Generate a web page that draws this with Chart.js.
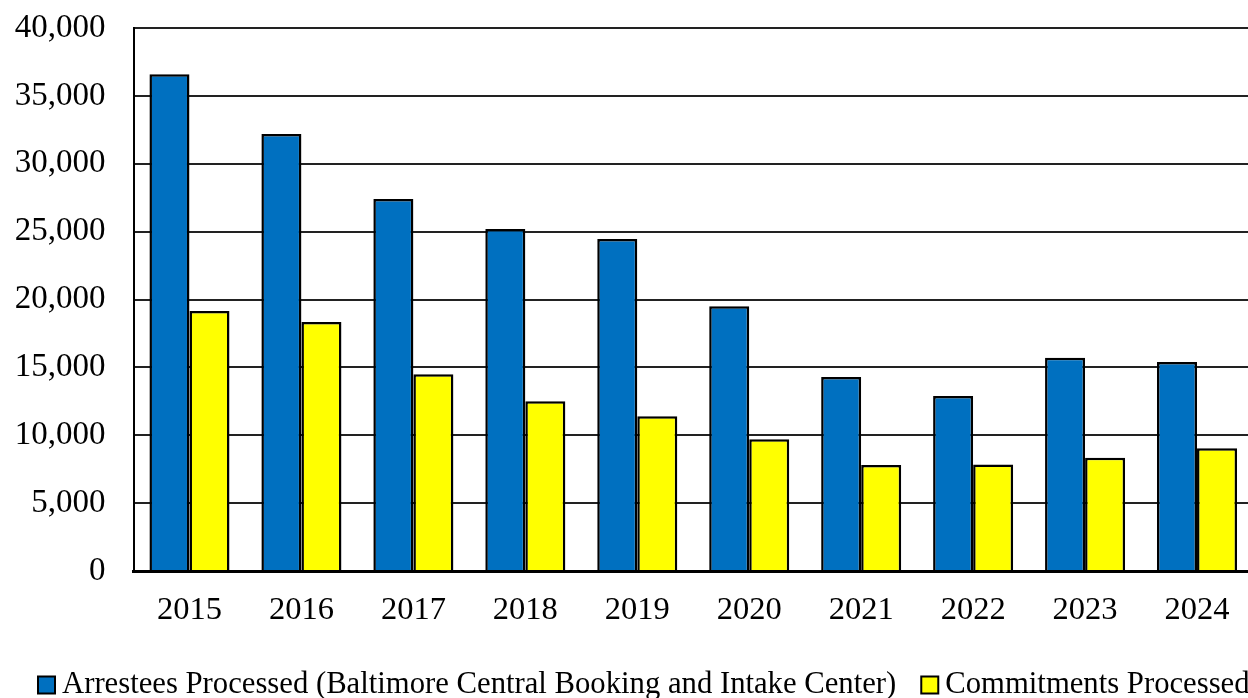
<!DOCTYPE html>
<html>
<head>
<meta charset="utf-8">
<title>Arrestees and Commitments Processed</title>
<script src="https://cdn.jsdelivr.net/npm/chart.js@4/dist/chart.umd.min.js"></script>
<style>
  html, body { margin: 0; padding: 0; background: #fff; overflow: hidden; }
  #wrap { width: 1248px; height: 698px; overflow: hidden; }
  canvas { display: block; }
</style>
</head>
<body>
<div id="wrap"><canvas id="booking-chart" width="1253" height="698"></canvas></div>
<script>
const years = ['2015', '2016', '2017', '2018', '2019', '2020', '2021', '2022', '2023', '2024'];
const arrestees = [36600, 32200, 27400, 25200, 24450, 19500, 14300, 12900, 15700, 15400];
const commitments = [19150, 18350, 14500, 12500, 11400, 9700, 7800, 7850, 8350, 9050];
const yTicks = [0, 5000, 10000, 15000, 20000, 25000, 30000, 35000, 40000];

const seriesNames = [
  'Arrestees Processed (Baltimore Central Booking and Intake Center)',
  'Commitments Processed',
];

const serif = 'Liberation Serif, Times New Roman, serif';

// legend row along the bottom: square swatch, short gap, label
const legendRow = {
  id: 'legendRow',
  afterDraw(chart) {
    const { ctx } = chart;
    const box = 17;
    const y = 685;
    let x = 38;
    ctx.save();
    ctx.font = `30.7px ${serif}`;
    ctx.textBaseline = 'middle';
    ctx.textAlign = 'left';
    chart.data.datasets.forEach((ds) => {
      ctx.fillStyle = ds.backgroundColor;
      ctx.fillRect(x, y - box / 2, box, box);
      ctx.lineWidth = 2;
      ctx.strokeStyle = '#000';
      ctx.strokeRect(x, y - box / 2, box, box);
      ctx.fillStyle = '#000';
      ctx.fillText(ds.label, x + box + 7, y);
      x += box + 7 + ctx.measureText(ds.label).width + 25;
    });
    ctx.restore();
  },
};

new Chart(document.getElementById('booking-chart'), {
  type: 'bar',
  data: {
    labels: years,
    datasets: [
      {
        label: seriesNames[0],
        data: arrestees,
        backgroundColor: '#0070C0',
        borderColor: '#000',
        borderWidth: 2.5,
      },
      {
        label: seriesNames[1],
        data: commitments,
        backgroundColor: '#FFFF00',
        borderColor: '#000',
        borderWidth: 2.5,
      },
    ],
  },
  options: {
    responsive: false,
    animation: false,
    categoryPercentage: 0.715,
    barPercentage: 1,
    layout: { padding: { top: 28, right: 0, bottom: 0, left: 0 } },
    plugins: {
      legend: { display: false },
      tooltip: { enabled: false },
    },
    scales: {
      x: {
        grid: { display: false, drawTicks: false },
        border: { display: true, color: '#000', width: 3 },
        ticks: {
          color: '#000',
          font: { family: serif, size: 32.5 },
          padding: 20,
          maxRotation: 0,
        },
        afterFit: (scale) => { scale.height = 127; },
      },
      y: {
        min: 0,
        max: 40000,
        afterBuildTicks: (scale) => { scale.ticks = yTicks.map((value) => ({ value })); },
        grid: { color: '#222', lineWidth: 2, drawTicks: false },
        border: { display: true, color: '#000', width: 2 },
        ticks: {
          color: '#000',
          font: { family: serif, size: 33 },
          padding: 28,
          callback: (value) => value.toLocaleString('en-US'),
        },
        // tick padding would otherwise also push the plot down from the top
        afterFit: (scale) => {
          scale.width = 133.5;
          scale.paddingTop = 0;
          scale.paddingBottom = 0;
        },
      },
    },
  },
  plugins: [legendRow],
});
</script>
</body>
</html>
